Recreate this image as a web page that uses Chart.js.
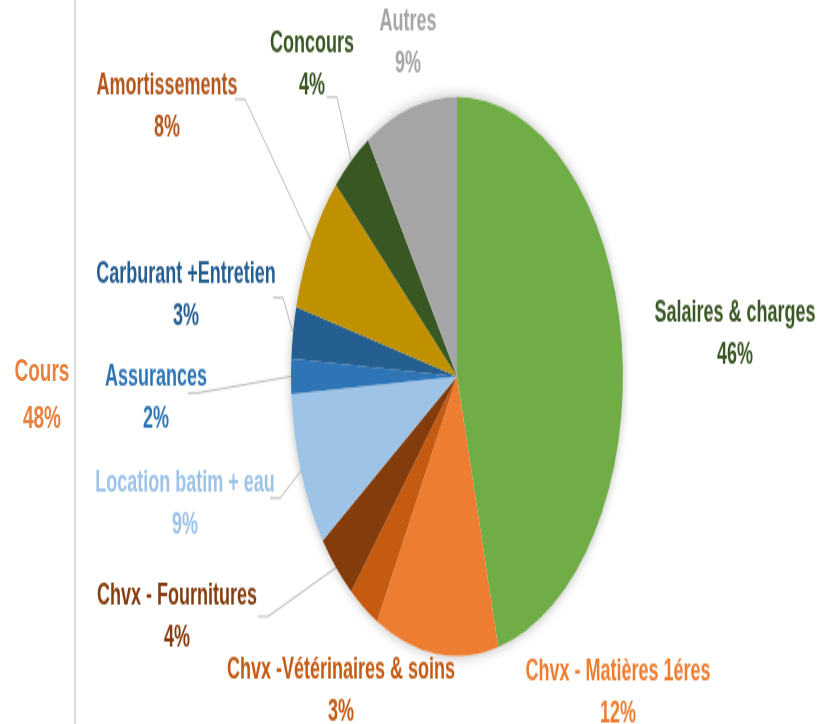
<!DOCTYPE html>
<html lang="fr">
<head>
<meta charset="utf-8">
<script src="https://cdn.jsdelivr.net/npm/chart.js@4"></script>
<style>
  html, body { margin: 0; padding: 0; background: #fff; }
  #page { position: relative; width: 820px; height: 724px; overflow: hidden; }
  #rule { position: absolute; left: 74px; top: 0; width: 2px; height: 724px; background: #d9d9d9; }
  #stretch {
    position: absolute; left: 0; top: 0; width: 820px; height: 430.95px;
    transform: scaleY(1.68); transform-origin: 0 0;
  }
  #side {
    position: absolute; left: 0; width: 84px; text-align: center;
    font: bold 19px "Liberation Sans", Arial, sans-serif; color: #e8833f; line-height: 28px;
    top: 207px;
  }
</style>
</head>
<body>
<div id="page">
  <div id="rule"></div>
  <div id="stretch">
    <div id="side">Cours<br>48%</div>
    <canvas id="pieChart"></canvas>
  </div>
</div>
<script>
// répartition des charges (%)
const categories = [
    'Salaires & charges',
    'Chvx - Matières 1éres',
    'Chvx -Vétérinaires & soins',
    'Chvx - Fournitures',
    'Location batim + eau',
    'Assurances',
    'Carburant +Entretien',
    'Amortissements',
    'Concours',
    'Autres'
];
const shares = [46, 12, 3, 4, 9, 2, 3, 8, 4, 9];

const sliceColors = ['#70ad47', '#ed7d31', '#c55a11', '#843c0c', '#9dc3e6',
                     '#2e75b6', '#255e91', '#bf9000', '#385723', '#a5a5a5'];
const labelColors = ['#385723', '#ed7d31', '#c55a11', '#843c0c', '#9dc3e6',
                     '#2e75b6', '#255e91', '#b4561b', '#385723', '#a5a5a5'];

// placement des étiquettes (coordonnées de la page, centre de la 1re ligne)
const SY = 1.68;
const labelPlaces = [
    { x: 735, y: 313 },
    { x: 618, y: 670 },
    { x: 341, y: 669 },
    { x: 177, y: 594, lead: [258, 615] },
    { x: 185, y: 482, lead: [270, 497] },
    { x: 156, y: 377, lead: [188, 392] },
    { x: 186, y: 274, lead: [273, 297] },
    { x: 167, y: 86,  lead: [235, 99] },
    { x: 312, y: 43,  lead: [327, 97] },
    { x: 408, y: 22 }
];
const LINE_GAP = 42;

const pieShadow = {
    id: 'pieShadow',
    beforeDatasetsDraw(chart) {
        const arc = chart.getDatasetMeta(0).data[0];
        if (!arc) return;
        const ctx = chart.ctx;
        ctx.save();
        ctx.shadowColor = 'rgba(0,0,0,0.28)';
        ctx.shadowBlur = 9;
        ctx.fillStyle = '#fff';
        ctx.beginPath();
        ctx.arc(arc.x, arc.y, arc.outerRadius, 0, Math.PI * 2);
        ctx.fill();
        ctx.restore();
    }
};

const sliceLabels = {
    id: 'sliceLabels',
    afterDatasetsDraw(chart) {
        const ctx = chart.ctx;
        const arcs = chart.getDatasetMeta(0).data;
        ctx.save();
        ctx.font = 'bold 18px "Liberation Sans", Arial, sans-serif';
        ctx.textAlign = 'center';
        ctx.textBaseline = 'middle';
        arcs.forEach((arc, i) => {
            const p = labelPlaces[i];
            if (p.lead) {
                const mid = (arc.startAngle + arc.endAngle) / 2;
                const ex = arc.x + Math.cos(mid) * arc.outerRadius;
                const ey = arc.y + Math.sin(mid) * arc.outerRadius;
                ctx.strokeStyle = '#a6a6a6';
                ctx.lineWidth = 0.8;
                ctx.beginPath();
                ctx.moveTo(p.lead[0], p.lead[1] / SY);
                ctx.lineTo(p.lead[0] + 10, p.lead[1] / SY);
                ctx.lineTo(ex, ey);
                ctx.stroke();
            }
            ctx.fillStyle = labelColors[i];
            ctx.fillText(categories[i], p.x, p.y / SY);
            ctx.fillText(shares[i] + '%', p.x, (p.y + LINE_GAP) / SY);
        });
        ctx.restore();
    }
};

new Chart(document.getElementById('pieChart').getContext('2d'), {
    type: 'pie',
    data: {
        labels: categories,
        datasets: [{
            data: shares,
            backgroundColor: sliceColors,
            borderWidth: 0
        }]
    },
    options: {
        responsive: true,
        maintainAspectRatio: false,
        animation: false,
        layout: { padding: { left: 291, right: 197, top: 57.5, bottom: 41.45 } },
        plugins: {
            legend: { display: false },
            tooltip: { enabled: false }
        }
    },
    plugins: [pieShadow, sliceLabels]
});
</script>
</body>
</html>
